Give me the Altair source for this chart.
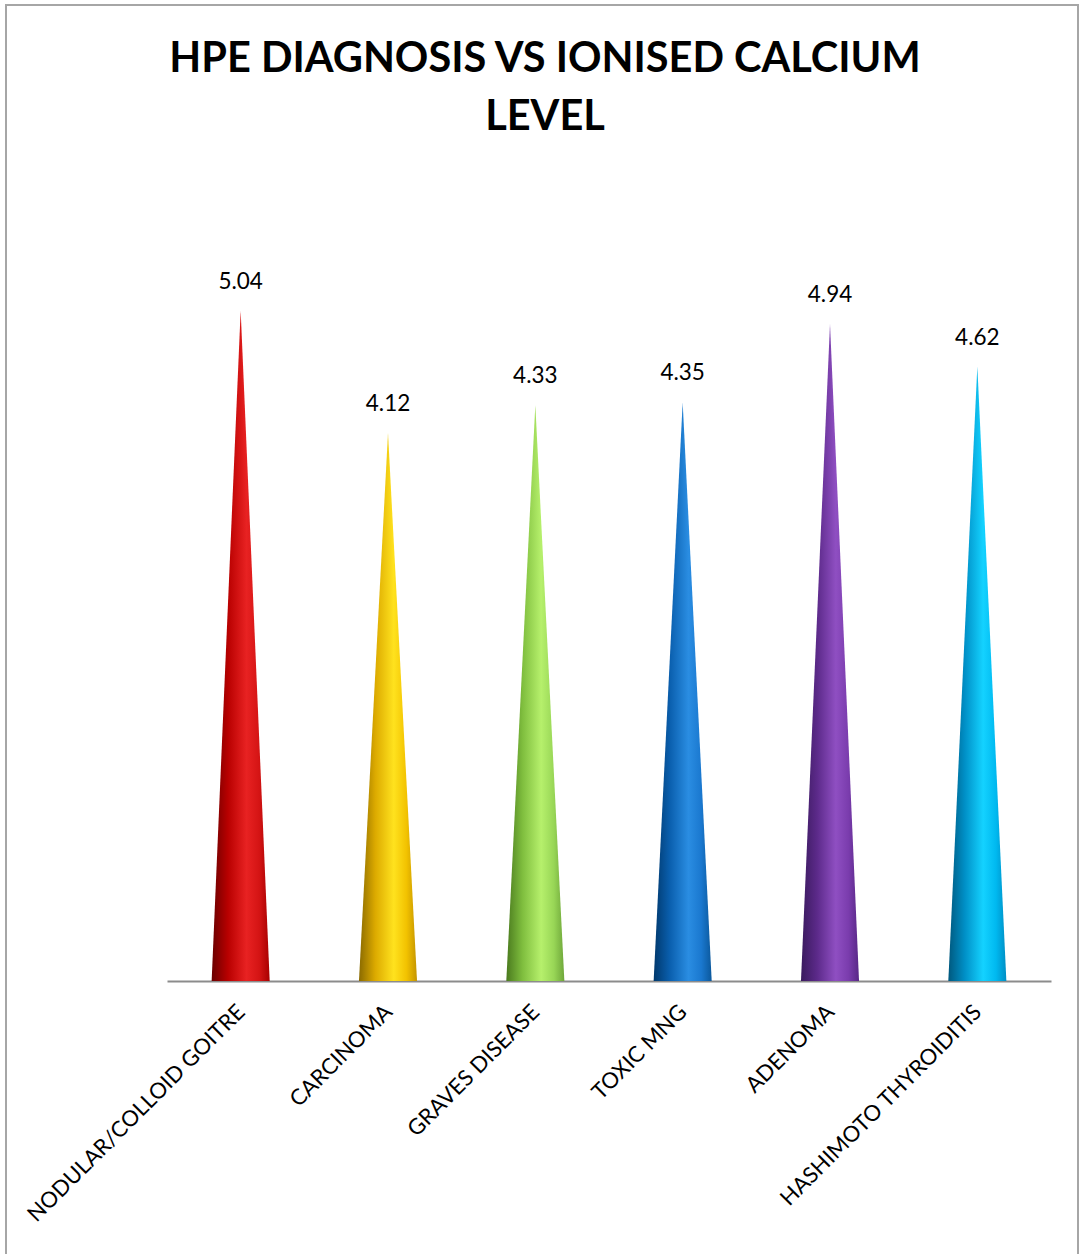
import altair as alt
import pandas as pd

# Ionised calcium by histopathological (HPE) diagnosis
categories = [
    "NODULAR/COLLOID GOITRE",
    "CARCINOMA",
    "GRAVES DISEASE",
    "TOXIC MNG",
    "ADENOMA",
    "HASHIMOTO THYROIDITIS",
]
values = [5.04, 4.12, 4.33, 4.35, 4.94, 4.62]
title_lines = ["HPE DIAGNOSIS VS IONISED CALCIUM", "LEVEL"]

# cone shading: dark left edge, highlight right of centre, darker right edge
shades = [
    ["#6a0000", "#b80000", "#e82222", "#d41414", "#a80000"],
    ["#8a6a00", "#dcaa00", "#ffe21e", "#f2c200", "#c49400"],
    ["#4a7a1e", "#7fbe3e", "#b6f06c", "#98d656", "#6ea63a"],
    ["#00386c", "#0a5fae", "#2a8de2", "#1a78cf", "#0b589c"],
    ["#3a1a5e", "#5c2a8a", "#8f4fc2", "#7a3cad", "#582786"],
    ["#00587e", "#008fc6", "#14d2ff", "#00b9f0", "#008ec4"],
]
stop_pos = [0.0, 0.28, 0.6, 0.82, 1.0]

HALF = 0.197  # half base width of a cone, in category units
W, H = 884, 798
YMAX = 6

rows = []
for i, (c, v) in enumerate(zip(categories, values)):
    for k in (-1, 0, 1):
        rows.append({"cat": c, "pos": i + k * HALF,
                     "val": v if k == 0 else 0.0})
cones = pd.DataFrame(rows)
labels = pd.DataFrame({"cat": categories,
                       "pos": [float(i) for i in range(len(categories))],
                       "val": values})

label_expr = "[" + ",".join("'" + c + "'" for c in categories) + "][datum.value]"

xscale = alt.Scale(domain=[-0.5, len(categories) - 0.5], nice=False, zero=False)
yscale = alt.Scale(domain=[0, YMAX], nice=False)

x_axis = alt.Axis(
    values=list(range(len(categories))),
    labelExpr=label_expr,
    labelAngle=-45,
    labelAlign="right",
    labelBaseline="middle",
    labelFont="Lato",
    labelFontSize=22,
    labelColor="#000000",
    labelLimit=600,
    labelOverlap=False,
    labelPadding=27,
    ticks=False,
    grid=False,
    domainColor="#8c8c8c",
    domainWidth=2,
)
X = alt.X("pos:Q", scale=xscale, axis=x_axis, title=None)
Y = alt.Y("val:Q", scale=yscale, axis=None, stack=None)

layers = []
for i, c in enumerate(categories):
    grad = alt.Gradient(
        gradient="linear", x1=0, x2=1, y1=0, y2=0,
        stops=[alt.GradientStop(offset=o, color=col)
               for o, col in zip(stop_pos, shades[i])],
    )
    layers.append(
        alt.Chart(cones)
        .transform_filter(alt.datum.cat == c)
        .mark_area(color=grad, interpolate="linear")
        .encode(x=X, y=Y)
    )

value_text = (
    alt.Chart(labels)
    .mark_text(font="Lato", fontSize=22.5, color="#000000", baseline="alphabetic", dy=-22)
    .encode(x=X, y=Y, text=alt.Text("val:Q", format=".2f"))
)

title_marks = [
    alt.Chart(alt.Data(values=[{"t": t}]))
    .mark_text(font="Lato", fontSize=41.5, fontWeight="bold", color="#000000",
               baseline="alphabetic", align="center")
    .encode(x=alt.value(378), y=alt.value(-111 + 58 * k), text="t:N")
    for k, t in enumerate(title_lines)
]

frame = (
    alt.Chart(alt.Data(values=[{}]))
    .mark_rect(fill=None, stroke="#a6a6a6", strokeWidth=2, clip=False)
    .encode(x=alt.value(-161), x2=alt.value(911), y=alt.value(-178), y2=alt.value(1090))
)

chart = (
    alt.layer(frame, *layers, value_text, *title_marks)
    .properties(
        width=W,
        height=H,
        padding={"left": 167, "top": 183, "right": 30, "bottom": 273},
        autosize=alt.AutoSizeParams(type="none"),
        background="#ffffff",
    )
    .configure_view(stroke=None)
)

chart.save("out.html", embed_options={"renderer": "svg", "actions": False})
